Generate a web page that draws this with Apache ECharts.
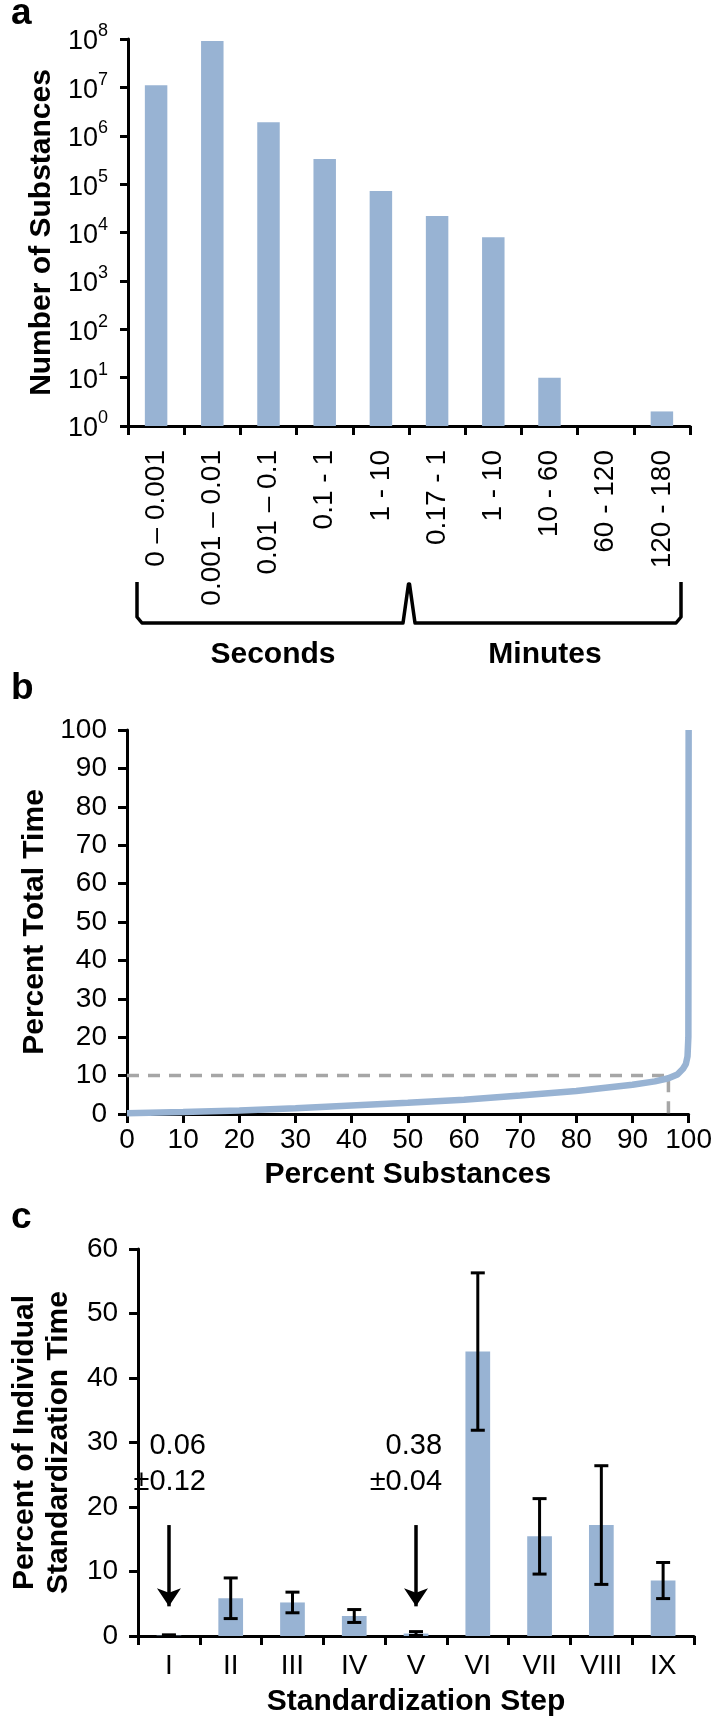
<!DOCTYPE html>
<html>
<head>
<meta charset="utf-8">
<script src="https://cdn.jsdelivr.net/npm/echarts@6/dist/echarts.min.js"></script>
<style>
  html, body { margin: 0; padding: 0; background: #fff; }
  #chart { width: 715px; height: 1718px; }
</style>
</head>
<body>
<div id="chart"></div>
<script>
// panel a: number of substances per processing time bin
const timeBins = ["0 – 0.001", "0.001 – 0.01", "0.01 – 0.1", "0.1 - 1", "1 - 10", "0.17 - 1", "1 - 10", "10 - 60", "60 - 120", "120 - 180"];
const substanceCounts = [1.1e7, 9.1e7, 1.9e6, 3.3e5, 7.2e4, 2.2e4, 8.0e3, 10, null, 2];
const timeUnits = ["Seconds", "Minutes"];

// panel b: cumulative share of total time
const pctSubstances = [0, 10, 20, 30, 40, 50, 60, 70, 80, 90, 94, 96.4, 98, 99, 99.5, 99.8, 99.95, 100];
const pctTotalTime = [0.2, 0.5, 0.9, 1.5, 2.2, 2.9, 3.7, 4.8, 6.0, 7.6, 8.5, 9.3, 10.3, 11.8, 13, 15, 20, 100];
const cutoffX = [0, 96.4, 96.4];
const cutoffY = [10, 10, 0];

// panel c: share of standardization time per step
const steps = ["I", "II", "III", "IV", "V", "VI", "VII", "VIII", "IX"];
const stepMeans = [0.06, 5.85, 5.2, 3.1, 0.38, 44.1, 15.45, 17.2, 8.6];
const stepErrors = [0.12, 3.15, 1.6, 1.0, 0.3, 12.2, 5.85, 9.2, 2.8];
const noteSteps = ["I", "V"];
const noteTexts = ["0.06\n±0.12", "0.38\n±0.04"];

const font = "Liberation Sans, Arial, sans-serif";
const barColor = "#98b3d3";

const chart = echarts.init(document.getElementById("chart"));

const gA = { left: 128, top: 39, width: 562, height: 387 };
const gB = { left: 127, top: 730, width: 567, height: 384 };
const gC = { left: 125, top: 1249, width: 569, height: 390 };

const axisLine = { show: true, lineStyle: { color: "#000", width: 3 } };
const axisTick = { show: true, length: 9, lineStyle: { color: "#000", width: 3 } };
const tickLabel = { color: "#000", fontSize: 28, fontFamily: font };
const titleStyle = { color: "#000", fontSize: 30, fontWeight: "bold", fontFamily: font };
const letterStyle = { fontSize: 37, fontWeight: "bold", fontFamily: font, fill: "#000" };

const bracketY0 = gA.top + gA.height + 156;
const bracketY1 = bracketY0 + 41;
const bL = gA.left + 9;
const bR = gA.left + gA.width - 9;
const bM = gA.left + gA.width / 2;

chart.setOption({
	animation: false,
	textStyle: { fontFamily: font },
	grid: [
		{ left: gA.left, top: gA.top, width: gA.width, height: gA.height },
		{ left: gB.left, top: gB.top, width: gB.width, height: gB.height },
		{ left: gC.left, top: gC.top, width: gC.width, height: gC.height },
	],
	xAxis: [
		{
			type: "category",
			gridIndex: 0,
			data: timeBins,
			axisLine,
			axisTick: { ...axisTick, interval: 0 },
			axisLabel: { ...tickLabel, rotate: 90, interval: 0, margin: 24, formatter: (v, i) => timeBins[i] },
		},
		{
			type: "value",
			gridIndex: 1,
			min: 0,
			max: 100,
			interval: 10,
			axisLine,
			axisTick,
			splitLine: { show: false },
			axisLabel: { ...tickLabel, margin: 12 },
			name: "Percent Substances",
			nameLocation: "middle",
			nameGap: 46,
			nameTextStyle: { ...titleStyle, verticalAlign: "top" },
		},
		{
			type: "category",
			gridIndex: 2,
			data: steps,
			axisLine,
			axisTick: { ...axisTick, interval: 0 },
			axisLabel: { ...tickLabel, interval: 0, margin: 16 },
			name: "Standardization Step",
			nameLocation: "middle",
			nameGap: 51,
			nameTextStyle: { ...titleStyle, verticalAlign: "top" },
		},
	],
	yAxis: [
		{
			type: "log",
			gridIndex: 0,
			min: 1,
			max: 1e8,
			axisLine,
			axisTick: { ...axisTick, length: 8 },
			splitLine: { show: false },
			axisLabel: {
				margin: 20,
				formatter: (v) => "{b|10}{s|" + Math.round(Math.log10(v)) + "}",
				rich: {
					b: { color: "#000", fontSize: 27, fontFamily: font, padding: [6, 0, 0, 0] },
					s: { color: "#000", fontSize: 18, fontFamily: font, verticalAlign: "top", lineHeight: 18 },
				},
			},
			name: "Number of Substances",
			nameLocation: "middle",
			nameRotate: 90,
			nameGap: 61,
			nameTextStyle: titleStyle,
		},
		{
			type: "value",
			gridIndex: 1,
			min: 0,
			max: 100,
			interval: 10,
			axisLine,
			axisTick,
			splitLine: { show: false },
			axisLabel: { ...tickLabel, margin: 20 },
			name: "Percent Total Time",
			nameLocation: "middle",
			nameRotate: 90,
			nameGap: 60,
			nameTextStyle: titleStyle,
		},
		{
			type: "value",
			gridIndex: 2,
			min: 0,
			max: 60,
			interval: 10,
			axisLine,
			axisTick,
			splitLine: { show: false },
			axisLabel: { ...tickLabel, margin: 20 },
			name: "Percent of Individual\nStandardization Time",
			nameLocation: "middle",
			nameRotate: 90,
			nameGap: 58,
			nameTextStyle: { ...titleStyle, lineHeight: 34 },
		},
	],
	series: [
		{
			type: "bar",
			xAxisIndex: 0,
			yAxisIndex: 0,
			data: substanceCounts,
			barWidth: "40%",
			itemStyle: { color: barColor },
			silent: true,
		},
		{
			type: "line",
			xAxisIndex: 1,
			yAxisIndex: 1,
			data: cutoffX.map((x, i) => [x, cutoffY[i]]),
			showSymbol: false,
			lineStyle: { color: "#a6a6a6", width: 3.5, type: [12, 9] },
			z: 2,
			silent: true,
		},
		{
			type: "line",
			xAxisIndex: 1,
			yAxisIndex: 1,
			data: pctSubstances.map((x, i) => [x, pctTotalTime[i]]),
			showSymbol: false,
			lineStyle: { color: barColor, width: 6.5 },
			z: 3,
			silent: true,
		},
		{
			type: "bar",
			xAxisIndex: 2,
			yAxisIndex: 2,
			data: stepMeans,
			barWidth: "40%",
			itemStyle: { color: barColor },
			silent: true,
			markLine: {
				silent: true,
				symbol: ["none", "arrow"],
				symbolSize: 18,
				label: { show: false },
				lineStyle: { color: "#000", width: 3.5, type: "solid", opacity: 1 },
				data: noteSteps.map((s) => [
					{ coord: [s, 17.2], symbol: "none" },
					{ coord: [s, 4.6], symbol: "arrow", symbolSize: 18, itemStyle: { color: "#000" } },
				]),
			},
			markPoint: {
				silent: true,
				symbol: "rect",
				symbolSize: 1,
				itemStyle: { color: "rgba(0,0,0,0)" },
				label: {
					show: true,
					position: "inside",
					align: "right",
					verticalAlign: "middle",
					color: "#000",
					fontSize: 29,
					lineHeight: 36,
					fontFamily: font,
				},
				data: noteSteps.map((s, i) => ({
					coord: [s, 26.6],
					label: { formatter: noteTexts[i], offset: [i === 0 ? 37 : 26, 0] },
				})),
			},
		},
		{
			type: "custom",
			xAxisIndex: 2,
			yAxisIndex: 2,
			silent: true,
			z: 4,
			data: stepMeans.map((m, i) => [i, Math.max(0, m - stepErrors[i]), m + stepErrors[i]]),
			renderItem: (params, api) => {
				const lo = api.coord([api.value(0), api.value(1)]);
				const hi = api.coord([api.value(0), api.value(2)]);
				const w = 7;
				const style = { stroke: "#000", lineWidth: 3 };
				return {
					type: "group",
					children: [
						{ type: "line", shape: { x1: lo[0], y1: lo[1], x2: hi[0], y2: hi[1] }, style },
						{ type: "line", shape: { x1: lo[0] - w, y1: lo[1], x2: lo[0] + w, y2: lo[1] }, style },
						{ type: "line", shape: { x1: hi[0] - w, y1: hi[1], x2: hi[0] + w, y2: hi[1] }, style },
					],
				};
			},
		},
	],
	graphic: [
		{ type: "text", left: 11, top: -5, style: { text: "a", ...letterStyle } },
		{ type: "text", left: 11, top: 670, style: { text: "b", ...letterStyle } },
		{ type: "text", left: 11, top: 1199, style: { text: "c", ...letterStyle } },
		{
			type: "polyline",
			shape: {
				points: [
					[bL, bracketY0], [bL, bracketY1 - 6], [bL + 5, bracketY1],
					[bM - 6, bracketY1], [bM - 0.5, bracketY0 + 2], [bM + 0.5, bracketY0 + 2], [bM + 6, bracketY1],
					[bR - 5, bracketY1], [bR, bracketY1 - 6], [bR, bracketY0],
				],
			},
			style: { stroke: "#000", lineWidth: 3.5, fill: null, lineJoin: "round" },
		},
		{
			type: "text",
			x: (bL + bM) / 2,
			y: bracketY1 + 32,
			style: { text: timeUnits[0], fill: "#000", font: "bold 30px " + font, align: "center", verticalAlign: "middle" },
		},
		{
			type: "text",
			x: (bM + bR) / 2,
			y: bracketY1 + 32,
			style: { text: timeUnits[1], fill: "#000", font: "bold 30px " + font, align: "center", verticalAlign: "middle" },
		},
	],
});
</script>
</body>
</html>
